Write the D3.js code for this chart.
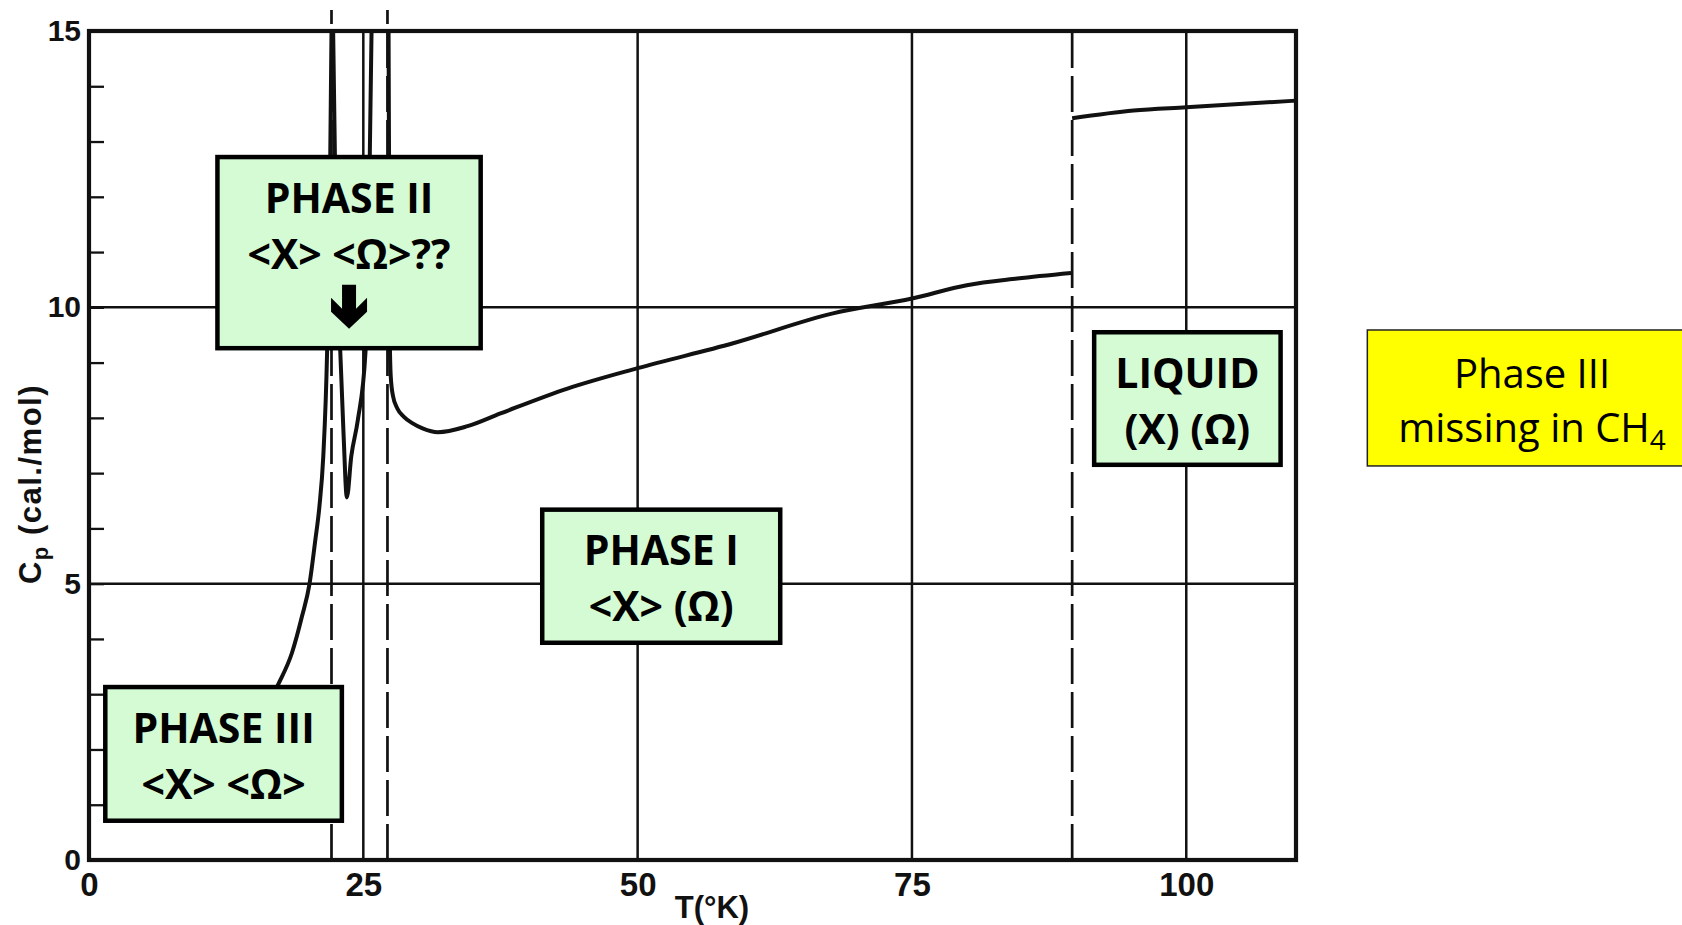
<!DOCTYPE html>
<html>
<head>
<meta charset="utf-8">
<script src="https://cdn.jsdelivr.net/npm/d3@7"></script>
<style>
  html, body { margin: 0; padding: 0; background: #fff; }
  svg { display: block; }
</style>
</head>
<body>
<svg id="chart" width="1682" height="925"></svg>
<script>
// Cp (cal/mol) against T (K), one array per branch
const phase3Rise = [[12, 1.6], [15, 2.4], [17.3, 3.2], [18.5, 3.75], [19.4, 4.4], [20.1, 5.0], [20.6, 5.75],
  [21.0, 6.4], [21.35, 7.3], [21.7, 9.2], [21.95, 12], [22.1, 15]];
const phase2Dip = [[22.25, 15], [22.5, 11.5], [22.9, 9.2], [23.2, 7.7], [23.5, 6.56], [23.9, 7.3],
  [24.5, 7.96], [25.2, 9.2], [25.5, 11.5], [25.75, 15]];
const phase1 = [[27.3, 15], [27.4, 9.6], [27.5, 8.75], [27.7, 8.4], [28.1, 8.17], [28.7, 8.02], [29.5, 7.9],
  [30.4, 7.81], [31.8, 7.74], [34.5, 7.85], [37.5, 8.08], [43.6, 8.53], [50, 8.9], [58.7, 9.35],
  [67.8, 9.89], [75, 10.16], [80, 10.4], [84.6, 10.52], [89.5, 10.62]];
const liquid = [[89.6, 13.42], [95.2, 13.56], [100, 13.62], [110, 13.74]];

const xTicks = [0, 25, 50, 75, 100];
const yLabels = [0, 5, 10, 15];
const gridT = [25, 50, 75, 100];
const gridCp = [5, 10];
const transitionsT = [22.1, 27.2, 89.6];

const noteBoxes = [
  { lines: ['PHASE II', '<X> <Ω>??'], t: [11.5, 35.9], cp: [12.76, 9.22], arrow: true },
  { lines: ['PHASE III', '<X> <Ω>'], t: [1.28, 23.25], cp: [3.17, 0.67] },
  { lines: ['PHASE I', '<X> (Ω)'], t: [41.1, 63.2], cp: [6.38, 3.89] },
  { lines: ['LIQUID', '(X) (Ω)'], t: [91.4, 108.8], cp: [9.59, 7.11] }
];

const svg = d3.select('#chart');
const x = d3.scaleLinear().domain([0, 110]).range([89, 1296]);
const y = d3.scaleLinear().domain([0, 15]).range([860, 31]);
const ink = '#111';
const axisFont = 'Liberation Sans, Arial, sans-serif';

svg.append('rect').attr('width', 1682).attr('height', 925).attr('fill', '#fff');

svg.append('defs').append('clipPath').attr('id', 'plot')
  .append('rect').attr('x', x(0)).attr('y', y(15)).attr('width', x(110) - x(0)).attr('height', y(0) - y(15));

// grid
svg.append('g').selectAll('line').data(gridT).enter().append('line')
  .attr('x1', d => x(d)).attr('x2', d => x(d)).attr('y1', y(0)).attr('y2', y(15))
  .attr('stroke', ink).attr('stroke-width', 2.5);
svg.append('g').selectAll('line').data(gridCp).enter().append('line')
  .attr('x1', x(0)).attr('x2', x(110)).attr('y1', d => y(d)).attr('y2', d => y(d))
  .attr('stroke', ink).attr('stroke-width', 2.5);

// transition temperatures
svg.append('g').selectAll('line').data(transitionsT).enter().append('line')
  .attr('x1', d => x(d)).attr('x2', d => x(d))
  .attr('y1', y(0)).attr('y2', (d, i) => i < 2 ? y(15) - 21 : y(15))
  .attr('stroke', ink).attr('stroke-width', 2.7)
  .attr('stroke-dasharray', '36 8');

// axes
const yAxis = d3.axisLeft(y).tickValues(d3.range(0, 16)).tickSize(-15).tickPadding(8)
  .tickFormat(d => yLabels.includes(d) ? d : '');
const gy = svg.append('g').attr('transform', `translate(${x(0)},0)`).call(yAxis);
gy.select('.domain').remove();
gy.selectAll('line').attr('stroke', ink).attr('stroke-width', 2.3);
gy.selectAll('text').attr('font-family', axisFont)
  .attr('font-weight', 'bold').attr('font-size', 30).attr('fill', ink);

const xAxis = d3.axisBottom(x).tickValues(xTicks).tickSize(0).tickPadding(13);
const gx = svg.append('g').attr('transform', `translate(0,${y(0)})`).call(xAxis);
gx.select('.domain').remove();
gx.selectAll('text').attr('font-family', axisFont)
  .attr('font-weight', 'bold').attr('font-size', 33).attr('fill', ink);

// frame
svg.append('rect').attr('x', x(0)).attr('y', y(15))
  .attr('width', x(110) - x(0)).attr('height', y(0) - y(15))
  .attr('fill', 'none').attr('stroke', ink).attr('stroke-width', 4.2);

// curves
const line = d3.line().x(d => x(d[0])).y(d => y(d[1])).curve(d3.curveMonotoneX);
svg.append('g').attr('clip-path', 'url(#plot)')
  .selectAll('path').data([phase3Rise, phase2Dip, phase1, liquid]).enter().append('path')
  .attr('d', line).attr('fill', 'none').attr('stroke', ink)
  .attr('stroke-width', 4).attr('stroke-linejoin', 'round');

// axis titles
svg.append('text').attr('x', 712).attr('y', 918).attr('text-anchor', 'middle')
  .attr('font-family', axisFont).attr('font-weight', 'bold')
  .attr('font-size', 31).attr('fill', ink).text('T(°K)');

const yt = svg.append('text').attr('transform', 'translate(41,484) rotate(-90)')
  .attr('text-anchor', 'middle').attr('font-family', axisFont)
  .attr('font-weight', 'bold').attr('font-size', 31).attr('letter-spacing', 1.5).attr('fill', ink);
yt.append('tspan').text('C');
yt.append('tspan').attr('font-size', 22).attr('dy', 7).text('p');
yt.append('tspan').attr('dy', -7).text('  (cal./mol)');

// phase boxes
const boxes = svg.append('g').selectAll('g').data(noteBoxes).enter().append('g');
boxes.append('rect')
  .attr('x', d => x(d.t[0]) + 2.25).attr('y', d => y(d.cp[0]) + 2.25)
  .attr('width', d => x(d.t[1]) - x(d.t[0]) - 4.5).attr('height', d => y(d.cp[1]) - y(d.cp[0]) - 4.5)
  .attr('fill', '#d4fbd4').attr('stroke', '#000').attr('stroke-width', 4.5);
boxes.each(function (d) {
  const g = d3.select(this);
  const cx = (x(d.t[0]) + x(d.t[1])) / 2;
  const top = y(d.cp[0]);
  d.lines.forEach((s, i) => {
    g.append('text').attr('x', cx).attr('y', top + 58 + i * 56).attr('text-anchor', 'middle')
      .attr('font-family', 'Open Sans, sans-serif').attr('font-weight', 'bold')
      .attr('font-size', 41).attr('fill', '#000').text(s);
  });
  if (d.arrow) {
    const a = top + 130;
    const pts = [[-7, 0], [7, 0], [7, 24], [18, 13], [18, 27], [0, 44], [-18, 27], [-18, 13], [-7, 24]];
    g.append('path').attr('d', 'M' + pts.map(p => [cx + p[0], a + p[1]].join(',')).join('L') + 'Z')
      .attr('fill', '#000');
  }
});

// side note
const note = svg.append('g');
const nx0 = x(116.5), ny0 = y(9.59), ny1 = y(7.13);
note.append('rect').attr('x', nx0).attr('y', ny0).attr('width', 1682 - nx0 + 10).attr('height', ny1 - ny0)
  .attr('fill', '#ffff00').attr('stroke', '#222').attr('stroke-width', 1.5);
note.append('text').attr('x', 1532).attr('y', ny0 + 58).attr('text-anchor', 'middle')
  .attr('font-family', 'Open Sans, sans-serif').attr('font-size', 40).attr('fill', '#000')
  .text('Phase III');
const n2 = note.append('text').attr('x', 1532).attr('y', ny0 + 112).attr('text-anchor', 'middle')
  .attr('font-family', 'Open Sans, sans-serif').attr('font-size', 40).attr('fill', '#000');
n2.append('tspan').text('missing in CH');
n2.append('tspan').attr('font-size', 28).attr('dy', 8).text('4');
</script>
</body>
</html>
